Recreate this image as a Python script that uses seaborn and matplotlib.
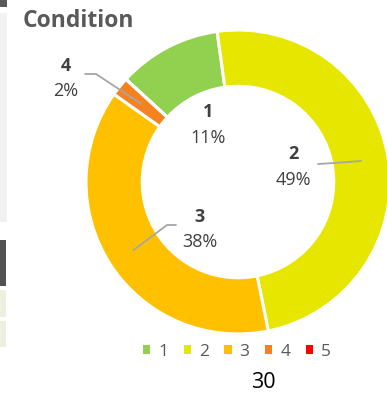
import numpy as np
import matplotlib
matplotlib.use("Agg")
import matplotlib.pyplot as plt
from matplotlib.patches import Rectangle, Patch
import seaborn as sns

# Condition ratings and their share of the total (%)
categories = ["1", "2", "3", "4", "5"]
shares = [11, 49, 38, 2, 0]
pct_labels = ["11%", "49%", "38%", "2%", "0%"]
colors = ["#92D050", "#E6E600", "#FFC000", "#F5821F", "#FF0000"]
footer_value = "30"

sns.set_theme(style="white")
plt.rcParams["font.family"] = ["Open Sans", "DejaVu Sans"]

W, H = 387, 393
fig = plt.figure(figsize=(W / 100, H / 100), dpi=100)
fig.patch.set_facecolor("white")


def fx(px):
    return px / W


def fy(py):
    return 1 - py / H


# donut geometry in pixels
cx, cy, R = 238, 182, 152
ax = fig.add_axes([fx(cx - R), fy(cy + R), 2 * R / W, 2 * R / H])

palette = sns.color_palette(colors)
wedges, _ = ax.pie(
    shares,
    colors=palette,
    startangle=137.5,
    counterclock=False,
    radius=1.0,
    wedgeprops=dict(width=0.37, edgecolor="white", linewidth=2.2),
    normalize=True,
)
ax.set_xlim(-1, 1)
ax.set_ylim(-1, 1)
ax.axis("off")
for w in wedges:
    w.set_clip_on(False)


def to_data(px, py):
    return (px - cx) / R, (cy - py) / R


def wedge_tip(w, r=0.82):
    mid = np.deg2rad((w.theta1 + w.theta2) / 2)
    return r * np.cos(mid), r * np.sin(mid)


# data labels: (category index, label centre px, number baseline, pct baseline, elbow path px)
label_specs = [
    (0, 208, 117, 143, None),
    (1, 293, 159, 185, [(318, 164), (334, 163)]),
    (2, 200, 222, 247, [(176, 225), (167, 225)]),
    (3, 66, 71, 96, [(85, 74), (96, 74)]),
]
text_color = "#404040"
for i, px, nb, pb, elbow in label_specs:
    fig.text(fx(px), fy(nb), categories[i], ha="center", va="baseline",
             fontsize=13, fontweight="bold", color=text_color)
    fig.text(fx(px), fy(pb), pct_labels[i], ha="center", va="baseline",
             fontsize=13, color=text_color)
    if elbow is not None:
        pts = [to_data(*p) for p in elbow] + [wedge_tip(wedges[i])]
        xs, ys = zip(*pts)
        ax.plot(xs, ys, color="#A6A6A6", lw=1.3, clip_on=False, zorder=5)

# title
fig.text(fx(23), fy(27), "Condition", ha="left", va="baseline",
         fontsize=16.5, fontweight="bold", color="#595959")

# legend
handles = [Patch(facecolor=c, edgecolor="none") for c in palette]
leg = fig.legend(
    handles, categories, loc="center", bbox_to_anchor=(fx(237), fy(352)),
    ncol=5, frameon=False, fontsize=12.5, handlelength=0.42, handleheight=0.42,
    handletextpad=0.45, columnspacing=0.9, borderpad=0, borderaxespad=0,
)
for t in leg.get_texts():
    t.set_color("#595959")

# footer value
fig.text(fx(263), fy(388), footer_value, ha="center", va="baseline",
         fontsize=15.5, color="#000000")

# neighbouring panel edges on the left
strips = [
    (0, 0, 7, 7, "#595959"),
    (0, 13, 7, 222, "#F2F2F2"),
    (0, 240, 6, 286, "#525252"),
    (0, 290, 6, 317, "#EBF1DE"),
    (0, 321, 6, 347, "#EBF1DE"),
]
for x0, y0, x1, y1, c in strips:
    fig.add_artist(Rectangle((fx(x0), fy(y1)), (x1 - x0) / W, (y1 - y0) / H,
                             transform=fig.transFigure, facecolor=c,
                             edgecolor="none"))

fig.savefig("out.png", dpi=100, facecolor="white")
